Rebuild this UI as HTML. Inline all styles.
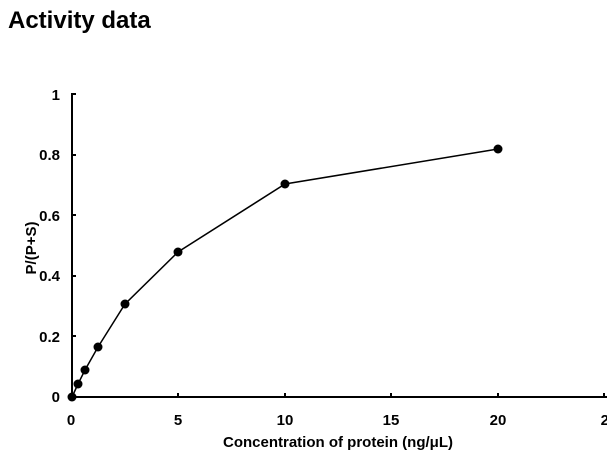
<!DOCTYPE html>
<html><head><style>
body{margin:0;background:#fff;width:607px;height:465px;overflow:hidden;font-family:"Liberation Sans",Arial,sans-serif}
</style></head><body>
<svg width="607" height="465" xmlns="http://www.w3.org/2000/svg" font-family="Liberation Sans, Arial, sans-serif" font-weight="bold">
<text x="8" y="28" font-size="24">Activity data</text>
<g stroke="#000" stroke-width="2" fill="none">
<line x1="72" y1="93" x2="72" y2="398"/>
<line x1="71" y1="397" x2="607" y2="397"/>
<line x1="72" y1="94" x2="76" y2="94"/>
<line x1="72" y1="155" x2="76" y2="155"/>
<line x1="72" y1="215" x2="76" y2="215"/>
<line x1="72" y1="276" x2="76" y2="276"/>
<line x1="72" y1="336" x2="76" y2="336"/>
<line x1="178" y1="397" x2="178" y2="393"/>
<line x1="285" y1="397" x2="285" y2="393"/>
<line x1="391" y1="397" x2="391" y2="393"/>
<line x1="498" y1="397" x2="498" y2="393"/>
<line x1="604" y1="397" x2="604" y2="393"/>
</g>
<g font-size="15" text-anchor="end">
<text x="60" y="100">1</text>
<text x="60" y="160">0.8</text>
<text x="60" y="221">0.6</text>
<text x="60" y="281">0.4</text>
<text x="60" y="342">0.2</text>
<text x="60" y="402">0</text>
</g>
<g font-size="15" text-anchor="middle">
<text x="71" y="425">0</text>
<text x="178" y="425">5</text>
<text x="285" y="425">10</text>
<text x="391" y="425">15</text>
<text x="498" y="425">20</text>
<text x="609" y="425">25</text>
<text x="338" y="447">Concentration of protein (ng/μL)</text>
<text transform="translate(36,248) rotate(-90)">P/(P+S)</text>
</g>
<polyline fill="none" stroke="#000" stroke-width="1.5" points="72,397 78,384 85,370 98,347 125,304 178,252 285,184 498,149"/>
<g fill="#000">
<circle cx="72" cy="397" r="4.5"/><circle cx="78" cy="384" r="4.5"/><circle cx="85" cy="370" r="4.5"/>
<circle cx="98" cy="347" r="4.5"/><circle cx="125" cy="304" r="4.5"/><circle cx="178" cy="252" r="4.5"/>
<circle cx="285" cy="184" r="4.5"/><circle cx="498" cy="149" r="4.5"/>
</g>
</svg>
</body></html>
